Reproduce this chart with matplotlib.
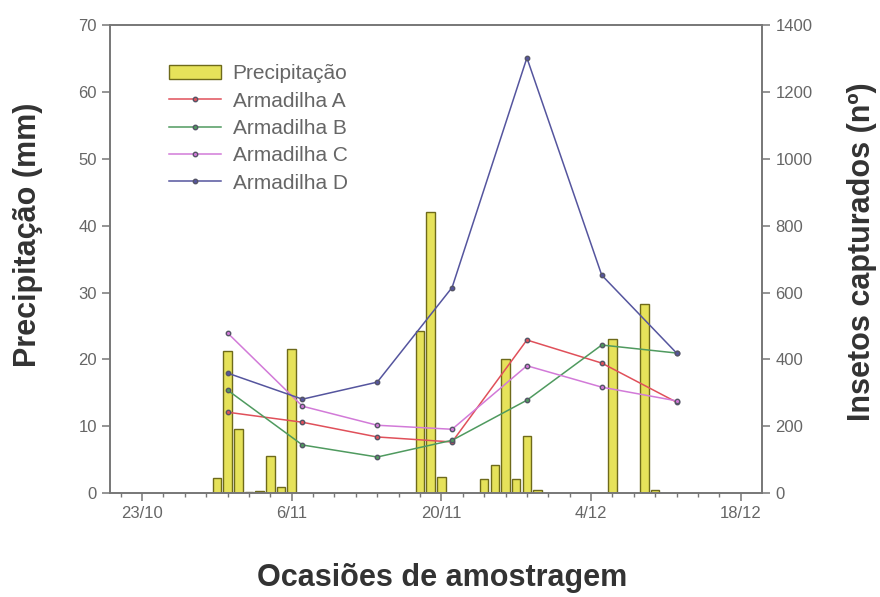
import matplotlib
matplotlib.use("Agg")
import matplotlib.pyplot as plt
import numpy as np
import pandas as pd

plt.rcParams['font.family'] = ['Liberation Sans', 'DejaVu Sans']

# precipitacao diaria (mm)
rain_dates = ['2009-10-30', '2009-10-31', '2009-11-01', '2009-11-02', '2009-11-03',
              '2009-11-04', '2009-11-05', '2009-11-06', '2009-11-18', '2009-11-19',
              '2009-11-20', '2009-11-24', '2009-11-25', '2009-11-26', '2009-11-27',
              '2009-11-28', '2009-11-29', '2009-12-06', '2009-12-09', '2009-12-10']
rain_mm = [2.2, 21.2, 9.6, 0.2, 0.3, 5.6, 0.9, 21.5, 24.2, 42.0,
           2.4, 2.1, 4.2, 20.0, 2.1, 8.5, 0.4, 23.0, 28.3, 0.5]

# insetos capturados por armadilha
sample_dates = ['2009-10-31', '2009-11-07', '2009-11-14', '2009-11-21',
                '2009-11-28', '2009-12-05', '2009-12-12']
trap_a = [242, 212, 168, 153, 458, 389, 272]
trap_b = [308, 144, 108, 158, 278, 443, 419]
trap_c = [479, 260, 203, 191, 381, 317, 276]
trap_d = [359, 281, 332, 615, 1302, 652, 419]

xticks = ['2009-10-23', '2009-11-06', '2009-11-20', '2009-12-04', '2009-12-18']
xticklabels = ['23/10', '6/11', '20/11', '4/12', '18/12']

rd = pd.to_datetime(rain_dates)
sd = pd.to_datetime(sample_dates)

grey = '#666666'
fig = plt.figure(figsize=(8.8, 5.97), dpi=100)
ax = fig.add_axes([0.125, 0.174, 0.741, 0.784])
ax2 = ax.twinx()

bars = ax.bar(rd, rain_mm, width=0.8, color='#e6e25a', edgecolor='#6e6a1a',
              linewidth=1.0, label='Precipitação', zorder=2)

series = [(trap_a, '#e0505a', 'Armadilha A'),
          (trap_b, '#4f9a5f', 'Armadilha B'),
          (trap_c, '#d27ad8', 'Armadilha C'),
          (trap_d, '#55559e', 'Armadilha D')]
lines = []
for vals, col, lab in series:
    l, = ax2.plot(sd, vals, color=col, lw=1.1, marker='o', ms=3.2,
                  mfc=col, mec='#555566', label=lab)
    lines.append(l)

ax.set_xlim(pd.Timestamp('2009-10-20'), pd.Timestamp('2009-12-20'))
ax.set_ylim(0, 70)
ax2.set_ylim(0, 1400)
ax.set_yticks(np.arange(0, 71, 10))
ax2.set_yticks(np.arange(0, 1401, 200))
ax.set_xticks(pd.to_datetime(xticks))
ax.set_xticklabels(xticklabels)
minors = pd.date_range('2009-10-21', '2009-12-19', freq='2D')
ax.set_xticks(minors, minor=True)

for a in (ax, ax2):
    for s in a.spines.values():
        s.set_color('#777777')
        s.set_linewidth(1.2)
ax.tick_params(axis='both', which='major', colors='#777777', labelcolor=grey,
               labelsize=12, length=6, width=1.1)
ax.tick_params(axis='x', which='minor', colors='#777777', length=3, width=1)
ax2.tick_params(axis='y', colors='#777777', labelcolor=grey, labelsize=12,
                length=6, width=1.1)

ax.set_ylabel('Precipitação (mm)', fontsize=22, fontweight='bold', color='#333333')
ax2.set_ylabel('Insetos capturados (nº)', fontsize=22, fontweight='bold', color='#333333')
ax.set_xlabel('Ocasiões de amostragem', fontsize=22, fontweight='bold', color='#333333')
ax.yaxis.label.set_va('center')
ax2.yaxis.label.set_va('center')
ax.xaxis.label.set_va('center')
ax.yaxis.set_label_coords(-0.126, 0.551)
ax2.yaxis.set_label_coords(1.153, 0.515)
ax.xaxis.set_label_coords(0.509, -0.182)

leg = ax.legend([bars] + lines, ['Precipitação'] + [s[2] for s in series],
                loc='upper left', bbox_to_anchor=(0.077, 0.934), frameon=False,
                fontsize=15, handlelength=2.5, labelspacing=0.4, handletextpad=0.58,
                borderaxespad=0)
for t in leg.get_texts():
    t.set_color(grey)

fig.savefig('out.png', dpi=100)
